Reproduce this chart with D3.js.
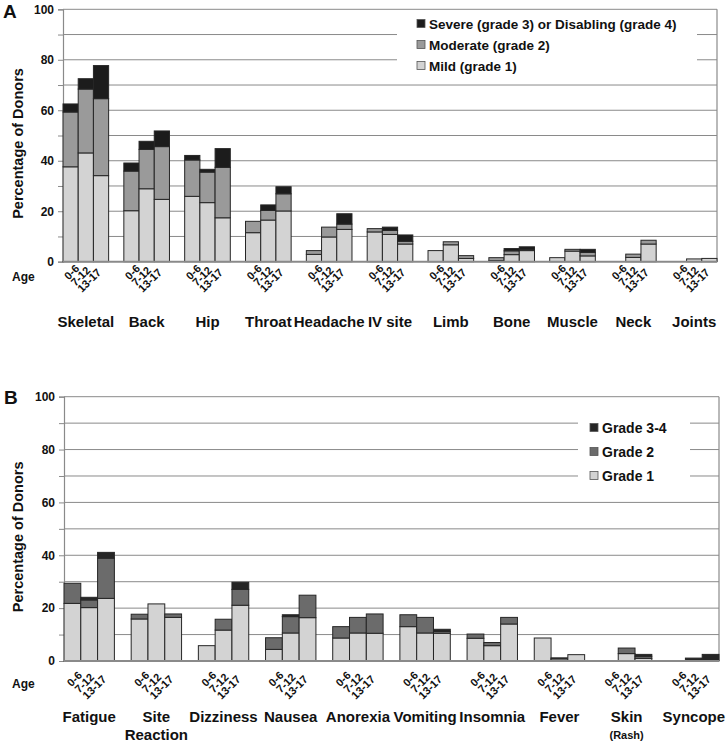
<!DOCTYPE html>
<html>
<head>
<meta charset="utf-8">
<script src="https://cdn.jsdelivr.net/npm/d3@7"></script>
<style>
html,body{margin:0;padding:0;background:#fff;}
svg{display:block;font-family:"Liberation Sans",Arial,sans-serif;font-weight:bold;}
</style>
</head>
<body>
<svg id="chart" width="726" height="750"></svg>
<script>
// ---------- DATA ----------
const ages = ["0-6", "7-12", "13-17"];
const yTicks = [0, 20, 40, 60, 80, 100];

// Panel A
const catsA = ["Skeletal", "Back", "Hip", "Throat", "Headache", "IV site", "Limb", "Bone", "Muscle", "Neck", "Joints"];
const mildA = [[37.6, 43.1, 34.1], [20.2, 28.9, 24.7], [25.9, 23.4, 17.4], [11.5, 16.5, 20.1], [2.9, 9.8, 12.8], [11.8, 10.8, 7.0], [4.4, 6.7, 1.3], [0.4, 2.8, 4.4], [1.6, 4.2, 2.3], [0, 1.7, 7.0], [0, 1.1, 1.3]];
const moderateA = [[21.7, 25.3, 30.5], [15.7, 15.6, 20.9], [14.4, 12.1, 20.0], [4.5, 3.8, 6.8], [1.5, 3.9, 2.1], [1.3, 1.6, 1.1], [0, 1.2, 1.1], [1.2, 1.5, 0.5], [0, 0.7, 1.4], [0, 1.3, 1.5], [0, 0, 0]];
const severeA = [[3.2, 4.1, 13.1], [3.2, 3.2, 6.2], [1.8, 1.1, 7.4], [0, 2.2, 2.8], [0, 0, 4.1], [0, 1.3, 2.5], [0, 0, 0], [0, 0.9, 1.0], [0, 0, 1.2], [0, 0, 0], [0, 0, 0]];
const legendA = ["Severe (grade 3) or Disabling (grade 4)", "Moderate (grade 2)", "Mild (grade 1)"];

// Panel B
const catsB = ["Fatigue", "Site|Reaction", "Dizziness", "Nausea", "Anorexia", "Vomiting", "Insomnia", "Fever", "Skin|(Rash)", "Syncope"];
const grade1B = [[21.8, 20.2, 23.7], [15.9, 21.6, 16.5], [5.8, 11.7, 21.1], [4.4, 10.6, 16.4], [8.7, 10.6, 10.5], [13.0, 10.6, 10.5], [8.6, 5.8, 14.0], [8.7, 0.8, 2.4], [0, 2.8, 1.0], [0, 0, 0]];
const grade2B = [[7.6, 2.9, 15.2], [1.8, 0, 1.3], [0, 4.1, 6.0], [4.4, 6.2, 8.5], [4.3, 5.9, 7.3], [4.5, 5.9, 0.7], [1.6, 1.2, 2.5], [0, 0.4, 0], [0, 2.1, 0.8], [0, 0, 0]];
const grade34B = [[0, 1.0, 2.2], [0, 0, 0], [0, 0, 2.7], [0, 0.7, 0], [0, 0, 0], [0, 0, 0.8], [0, 0, 0], [0, 0, 0], [0, 0, 0.7], [0, 1.1, 2.5]];
const legendB = ["Grade 3-4", "Grade 2", "Grade 1"];

// ---------- DRAW ----------
const svg = d3.select("#chart");

function drawPanel(o) {
  const g = svg.append("g");
  const slots = [];
  o.cats.forEach((c, ci) => {
    ages.forEach((a, ai) => slots.push(ci + "_" + ai));
    if (ci < o.cats.length - 1) slots.push("gap" + ci);
  });
  const x = d3.scaleBand().domain(slots).range([o.x0, o.x1]).padding(0);
  const y = d3.scaleLinear().domain([0, 100]).range([o.y0, o.y1]);
  const bw = x.bandwidth();

  // gridlines
  g.append("g").selectAll("line").data(d3.range(10, 101, 10)).join("line")
    .attr("x1", o.x0).attr("x2", o.x1)
    .attr("y1", d => y(d)).attr("y2", d => y(d))
    .attr("stroke", "#8a8a8a").attr("stroke-width", 1);
  // right border
  g.append("line").attr("x1", o.x1).attr("x2", o.x1).attr("y1", y(100)).attr("y2", y(0))
    .attr("stroke", "#8a8a8a").attr("stroke-width", 1.2);

  // legend background
  g.append("rect").attr("x", o.leg.x).attr("y", o.leg.y).attr("width", o.leg.w).attr("height", o.leg.h)
    .attr("fill", "#fff");

  // y axis
  const yAxis = d3.axisLeft(y).tickValues(d3.range(0, 101, 10)).tickSize(5)
    .tickFormat(d => yTicks.includes(d) ? d : "");
  const ya = g.append("g").attr("transform", `translate(${o.x0},0)`).call(yAxis);
  ya.select(".domain").attr("stroke", "#8a8a8a").attr("stroke-width", 1.2);
  ya.selectAll(".tick line").attr("stroke", "#8a8a8a");
  ya.selectAll(".tick text").attr("font-size", 12).attr("font-weight", "bold")
    .attr("font-family", "Liberation Sans, Arial, sans-serif").attr("fill", "#111").attr("x", -9);

  // stacked bars
  const series = o.series;
  const recs = [];
  o.cats.forEach((c, ci) => {
    ages.forEach((a, ai) => {
      let base = 0;
      series.forEach((s, si) => {
        const v = s.data[ci][ai];
        if (v > 0) recs.push({ key: ci + "_" + ai, y0: base, y1: base + v, fill: s.color });
        base += v;
      });
    });
  });
  g.append("g").selectAll("rect").data(recs).join("rect")
    .attr("x", d => x(d.key)).attr("width", bw)
    .attr("y", d => y(d.y1)).attr("height", d => y(d.y0) - y(d.y1))
    .attr("fill", d => d.fill).attr("stroke", "#262626").attr("stroke-width", 1);

  // bottom axis line
  g.append("line").attr("x1", o.x0).attr("x2", o.x1).attr("y1", o.y0).attr("y2", o.y0)
    .attr("stroke", "#8a8a8a").attr("stroke-width", 2);

  // age tick labels
  o.cats.forEach((c, ci) => {
    const gx = x(ci + "_0");
    ages.forEach((a, ai) => {
      const ex = gx + bw * (1.12 + 0.72 * ai);
      const ey = o.y0 + o.ageOff + 2 * ai;
      g.append("text").attr("transform", `translate(${ex},${ey}) rotate(-45)`)
        .attr("text-anchor", "end").attr("font-size", 11).attr("fill", "#111").text(a);
    });
    const cx = gx + bw * 1.5;
    const parts = c.split("|");
    const t = g.append("text").attr("x", cx).attr("y", o.y0 + o.catOff)
      .attr("text-anchor", "middle").attr("font-size", 15).attr("fill", "#111").text(parts[0]);
    if (parts[1]) {
      const small = parts[1].startsWith("(");
      g.append("text").attr("x", cx).attr("y", o.y0 + o.catOff + (small ? 17 : 18))
        .attr("text-anchor", "middle").attr("font-size", small ? 11 : 15).attr("fill", "#111").text(parts[1]);
    }
  });

  g.append("text").attr("x", 12).attr("y", o.y0 + o.ageLblOff).attr("font-size", 12).attr("fill", "#111").text("Age");

  // y title
  g.append("text").attr("transform", `translate(23,${(o.y0 + o.y1) / 2 + 8}) rotate(-90)`)
    .attr("text-anchor", "middle").attr("font-size", 14.5).attr("fill", "#111").text("Percentage of Donors");
  // panel letter
  g.append("text").attr("x", o.letterX).attr("y", o.letterY).attr("font-size", 19).attr("fill", "#111").text(o.letter);

  // legend entries (top to bottom: highest grade first)
  const legSeries = series.slice().reverse();
  legSeries.forEach((s, i) => {
    const cy = o.leg.ty + i * o.leg.dy;
    g.append("rect").attr("x", o.leg.mx).attr("y", cy - 4.5).attr("width", 8).attr("height", 8)
      .attr("fill", s.color).attr("stroke", "#555").attr("stroke-width", 0.8);
    g.append("text").attr("x", o.leg.mx + 12).attr("y", cy + 5)
      .attr("font-size", o.leg.fs).attr("fill", "#111").text(o.legend[i]);
  });
}

drawPanel({
  cats: catsA, x0: 63, x1: 717, y0: 261.7, y1: 9.3,
  series: [
    { data: mildA, color: "#d3d3d3" },
    { data: moderateA, color: "#9a9a9a" },
    { data: severeA, color: "#1c1c1c" }
  ],
  legend: legendA,
  leg: { x: 397, y: 14, w: 300, h: 62, mx: 417, ty: 24, dy: 21, fs: 13.5 },
  ageOff: 7.5, ageLblOff: 19, catOff: 65,
  letter: "A", letterX: 3, letterY: 18
});

drawPanel({
  cats: catsB, x0: 64, x1: 719, y0: 661, y1: 396.7,
  series: [
    { data: grade1B, color: "#d3d3d3" },
    { data: grade2B, color: "#6b6b6b" },
    { data: grade34B, color: "#262626" }
  ],
  legend: legendB,
  leg: { x: 578, y: 414, w: 112, h: 74, mx: 590, ty: 428, dy: 24, fs: 14 },
  ageOff: 15, ageLblOff: 27, catOff: 61,
  letter: "B", letterX: 4, letterY: 404
});
</script>
</body>
</html>
